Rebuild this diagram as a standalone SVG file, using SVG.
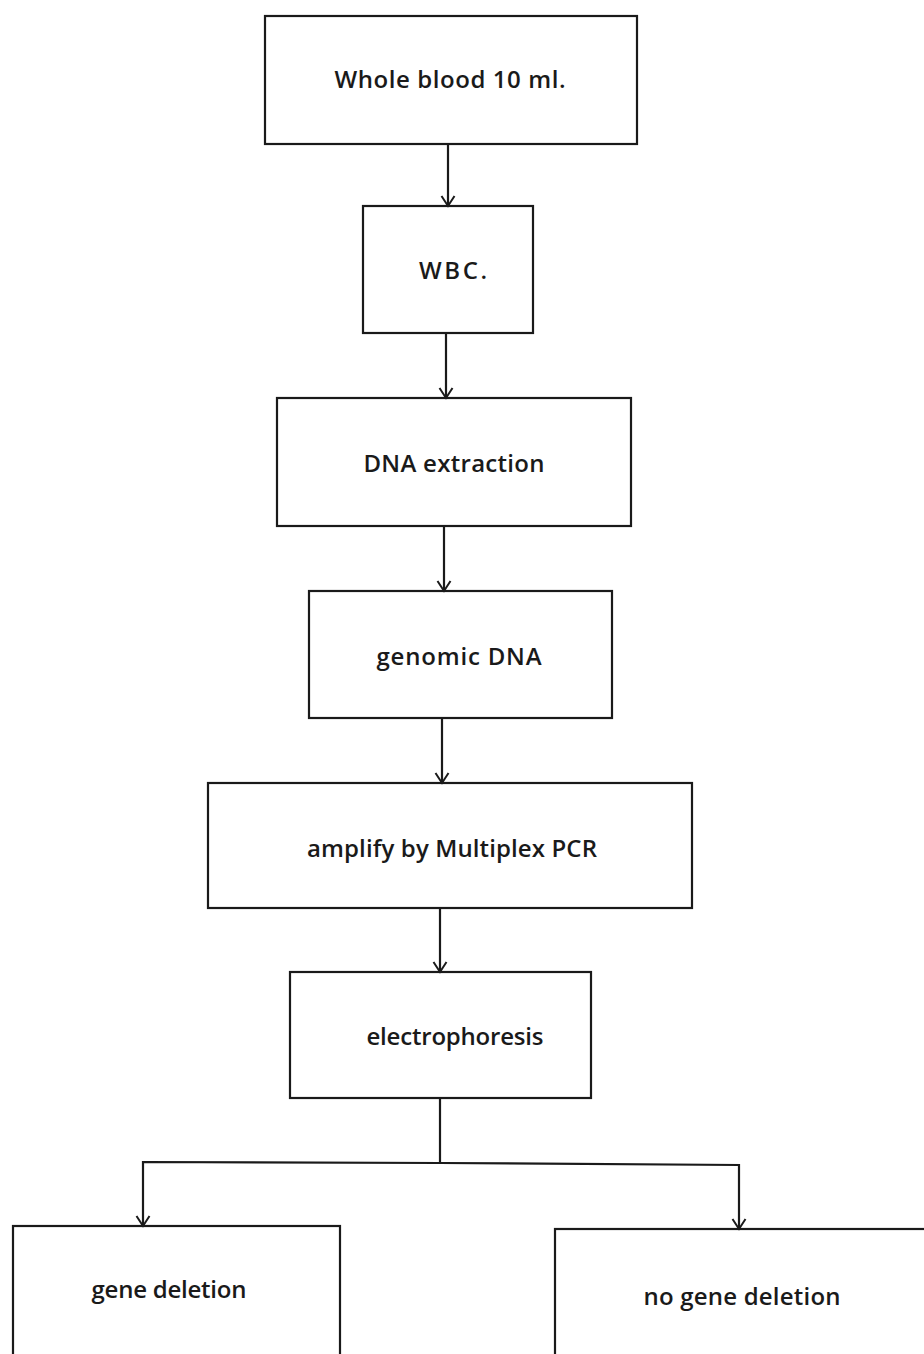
<svg xmlns="http://www.w3.org/2000/svg" width="924" height="1354" viewBox="0 0 924 1354">
  <style>
    .box { fill: none; stroke: #1a1a1a; stroke-width: 2.2; }
    .lbl { font-family: "Open Sans", "Liberation Sans", Arial, sans-serif; font-size: 24px; font-weight: 600; fill: #1a1a1a; text-anchor: middle; }
    .conn { fill: none; stroke: #1a1a1a; stroke-width: 2.2; }
  </style>
  <defs>
    <marker id="arrow" markerUnits="userSpaceOnUse" markerWidth="14" markerHeight="16" viewBox="0 0 14 16" refX="11" refY="8" orient="auto">
      <path d="M1,1.5 L11,8 L1,14.5" fill="none" stroke="#1a1a1a" stroke-width="2"/>
    </marker>
  </defs>
  <rect width="924" height="1354" fill="#ffffff"/>

  <g id="connectors">
    <line class="conn" x1="448" y1="144" x2="448" y2="206" marker-end="url(#arrow)"/>
    <line class="conn" x1="446" y1="333" x2="446" y2="398" marker-end="url(#arrow)"/>
    <line class="conn" x1="444" y1="526" x2="444" y2="591" marker-end="url(#arrow)"/>
    <line class="conn" x1="442" y1="718" x2="442" y2="783" marker-end="url(#arrow)"/>
    <line class="conn" x1="440" y1="908" x2="440" y2="972" marker-end="url(#arrow)"/>
    <polyline class="conn" points="440,1098 440,1163"/>
    <polyline class="conn" points="440,1163 143,1162 143,1226" marker-end="url(#arrow)"/>
    <polyline class="conn" points="440,1163 739,1165 739,1229" marker-end="url(#arrow)"/>
  </g>

  <g id="node-whole-blood">
    <rect class="box" x="265" y="16" width="372" height="128"/>
    <text class="lbl" x="450" y="88" textLength="231" lengthAdjust="spacing">Whole blood 10 ml.</text>
  </g>
  <g id="node-wbc">
    <rect class="box" x="363" y="206" width="170" height="127"/>
    <text class="lbl" x="453" y="279" textLength="68" lengthAdjust="spacing">WBC.</text>
  </g>
  <g id="node-dna-extraction">
    <rect class="box" x="277" y="398" width="354" height="128"/>
    <text class="lbl" x="454" y="472" textLength="181" lengthAdjust="spacing">DNA extraction</text>
  </g>
  <g id="node-genomic-dna">
    <rect class="box" x="309" y="591" width="303" height="127"/>
    <text class="lbl" x="459" y="665" textLength="165" lengthAdjust="spacing">genomic DNA</text>
  </g>
  <g id="node-multiplex-pcr">
    <rect class="box" x="208" y="783" width="484" height="125"/>
    <text class="lbl" x="452" y="857" textLength="290" lengthAdjust="spacing">amplify by Multiplex PCR</text>
  </g>
  <g id="node-electrophoresis">
    <rect class="box" x="290" y="972" width="301" height="126"/>
    <text class="lbl" x="455" y="1045" textLength="177" lengthAdjust="spacing">electrophoresis</text>
  </g>
  <g id="node-gene-deletion">
    <rect class="box" x="13" y="1226" width="327" height="140"/>
    <text class="lbl" x="169" y="1298" textLength="155" lengthAdjust="spacing">gene deletion</text>
  </g>
  <g id="node-no-gene-deletion">
    <rect class="box" x="555" y="1229" width="380" height="140"/>
    <text class="lbl" x="742" y="1305" textLength="197" lengthAdjust="spacing">no gene deletion</text>
  </g>
</svg>
